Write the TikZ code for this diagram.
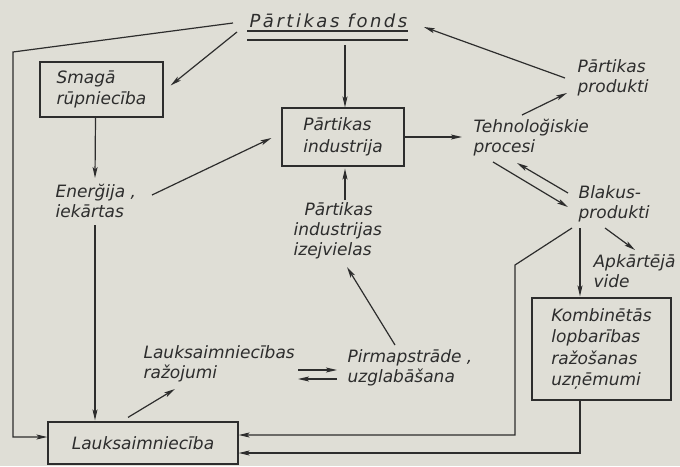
\documentclass[tikz,border=0pt]{standalone}
\usepackage{fontspec}
\setmainfont{DejaVu Sans}[ItalicFont={DejaVu Sans Oblique}]
\newfontfamily\titlefont{DejaVu Sans}[ItalicFont={DejaVu Sans Oblique},LetterSpace=14]
\usetikzlibrary{arrows.meta,calc}
\definecolor{paper}{RGB}{223,222,214}
\definecolor{ink}{RGB}{45,45,45}

\begin{document}
\begin{tikzpicture}[x=1pt,y=-1pt,line width=1.2pt,color=ink,
  >={Stealth[length=11pt,width=5pt,inset=2.5pt]},
  txt/.style={anchor=base west,inner sep=0pt,align=left,font=\itshape\fontsize{17}{20}\selectfont},
  box/.style={draw,rectangle,inner sep=0pt,align=left,font=\itshape\fontsize{17}{21.5}\selectfont}]
\useasboundingbox (0,0) rectangle (680,466);
\fill[paper] (0,0) rectangle (680,466);
\node[txt,font=\titlefont\itshape\fontsize{18}{21}\selectfont] (fonds) at (249,27) {Pārtikas fonds};
\node[box,minimum width=123pt,minimum height=55pt] (smaga) at (101.5,89.5) {Smagā\\rūpniecība};
\node[box,minimum width=122pt,minimum height=58pt] (industrija) at (343,137) {Pārtikas\\industrija};
\node[box,minimum width=139pt,minimum height=102pt] (kombin) at (601.5,349) {Kombinētās\\lopbarības\\ražošanas\\uzņēmumi};
\node[box,minimum width=190pt,minimum height=42pt] (lauks) at (143,443) {Lauksaimniecība};
\node[txt] (energija) at (55,217) {Enerğija ,\\iekārtas};
\node[txt] (tehno) at (473,152) {Tehnoloğiskie\\procesi};
\node[txt] (produkti) at (577,92) {Pārtikas\\produkti};
\node[txt] (blakus) at (578,218) {Blakus-\\produkti};
\node[txt] (vide) at (593,287) {Apkārtējā\\vide};
\node[txt] (izejvielas) at (293,255) {\hspace*{11pt}Pārtikas\\industrijas\\izejvielas};
\node[txt] (razojumi) at (143,378) {Lauksaimniecības\\ražojumi};
\node[txt] (pirmap) at (347,382) {Pirmapstrāde ,\\uzglabāšana};
\coordinate (lt) at (13,52);
\coordinate (bend) at (515,265);
\draw ($(fonds.base west)+(-2,4)$) -- ($(fonds.base east)+(0,4)$)
      ($(fonds.base west)+(-2,13)$) -- ($(fonds.base east)+(0,13)$);
\path[->]
($(fonds.base west)+(-12,5)$) edge ($(smaga.east)+(7,-4)$)
($(industrija.north |- fonds.south)+(2,17)$) edge ($(industrija.north)+(2,0)$)
($(smaga.south)+(-6,0)$) edge ($(energija.base west)+(40,-39)$)
($(energija.base west)+(97,-22)$) edge ($(industrija.west)+(-10,1)$)
($(energija.base west)+(40,8)$) edge ($(lauks.north)+(-48,-1)$)
(industrija.east) edge ($(tehno.base west)+(-11,-15)$)
($(tehno.base west)+(49,-37)$) edge ($(produkti.base west)+(-10,1)$)
($(produkti.base west)+(-12,-14)$) edge ($(fonds.base east)+(16,0)$)
($(tehno.base west)+(20,10)$) edge ($(blakus.base west)+(-10,-11)$)
($(blakus.base west)+(-10,-25)$) edge ($(tehno.base west)+(44,11)$)
($(blakus.base west)+(2,10)$) edge ($(kombin.north)+(-21.5,-1)$)
($(blakus.base west)+(27,10)$) edge ($(vide.base west)+(42,-37)$)
($(lauks.north)+(-15,-4)$) edge ($(razojumi.base west)+(32,11)$)
($(razojumi.base west)+(155,-8)$) edge ($(pirmap.base west)+(-10,-12)$)
($(pirmap.base west)+(-10,-3)$) edge ($(razojumi.base west)+(155,1)$)
($(pirmap.base west)+(48,-37)$) edge ($(izejvielas.base west)+(54,12)$)
($(izejvielas.base west)+(52,-55)$) edge ($(industrija.south)+(2,2)$);
\draw[->] ($(fonds.base west)+(-16,-4)$) -- (lt) |- ($(lauks.west)+(0,-6)$);
\draw[->] ($(blakus.base west)+(-6,10)$) -- (bend) |- ($(lauks.east)+(0,-8)$);
\draw[->] ($(kombin.south)+(-21.5,0)$) |- ($(lauks.east)+(0,10)$);
\end{tikzpicture}
\end{document}
